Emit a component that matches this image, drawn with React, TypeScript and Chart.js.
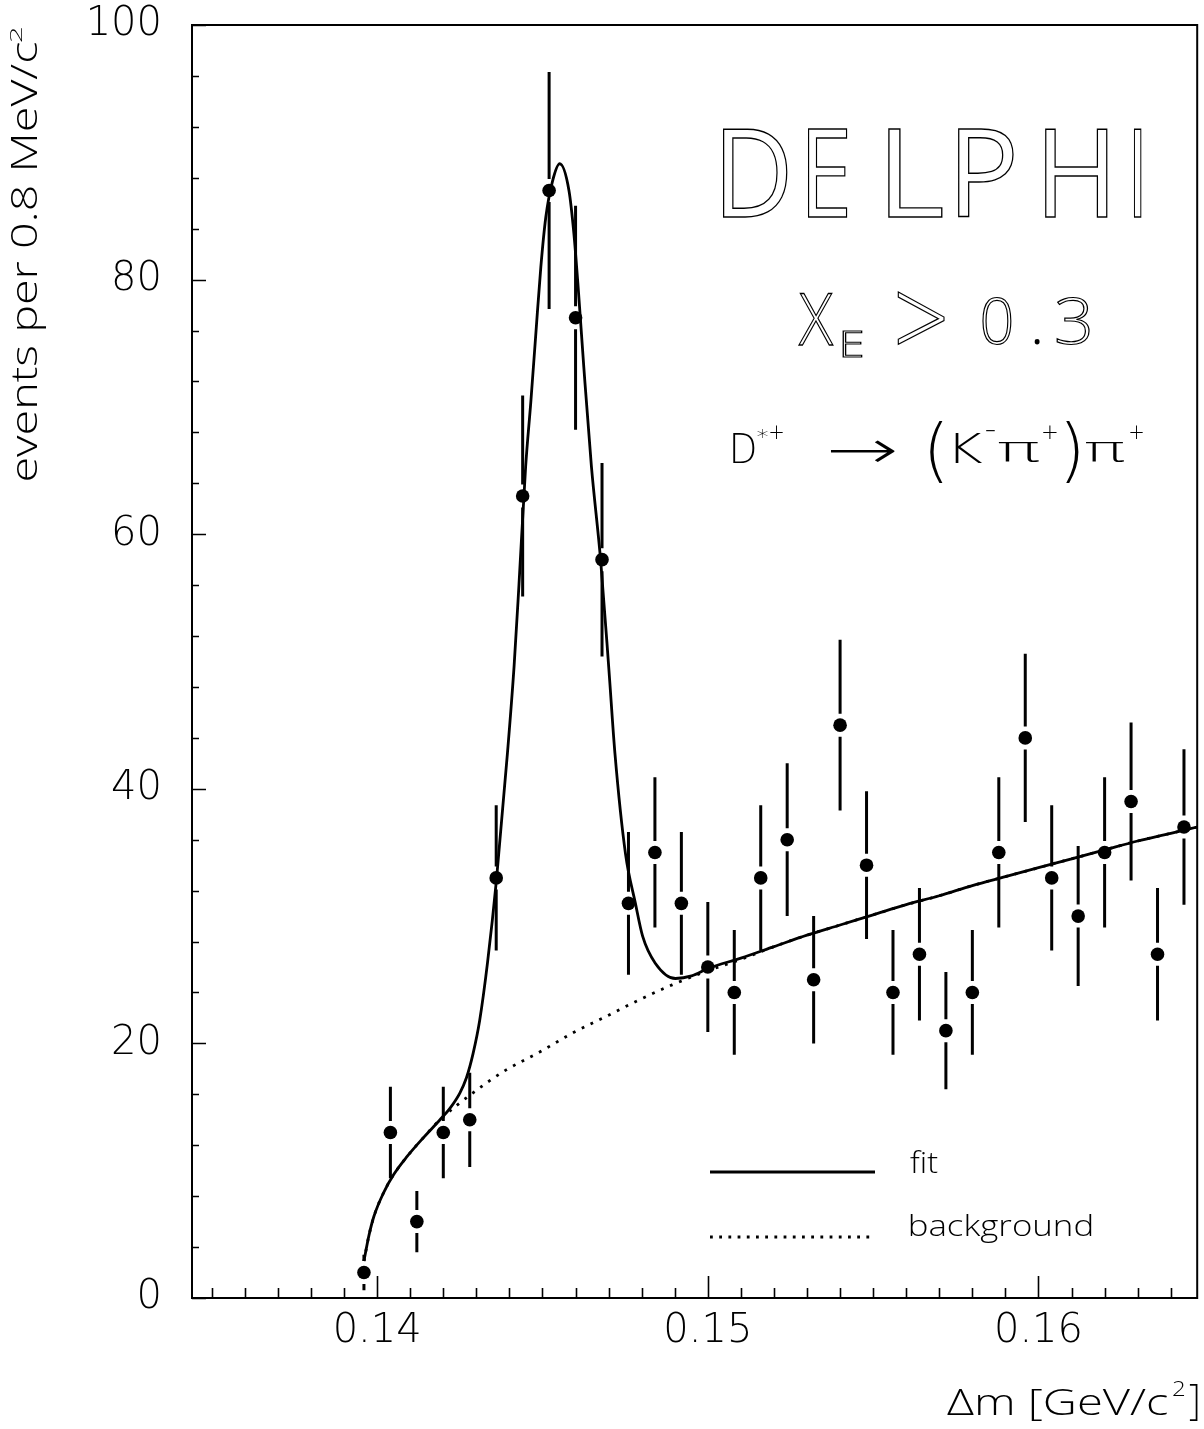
import React, { useEffect, useRef } from "react";
import { Chart, registerables } from "chart.js";

Chart.register(...registerables);

// ---- data ----
const binCenters = [
  0.1396, 0.1404, 0.1412, 0.142, 0.1428, 0.1436, 0.1444, 0.1452, 0.146, 0.1468,
  0.1476, 0.1484, 0.1492, 0.15, 0.1508, 0.1516, 0.1524, 0.1532, 0.154, 0.1548,
  0.1556, 0.1564, 0.1572, 0.158, 0.1588, 0.1596, 0.1604, 0.1612, 0.162, 0.1628,
  0.1636, 0.1644,
];
const counts = [
  2, 13, 6, 13, 14, 33, 63, 87, 77, 58, 31, 35, 31, 26, 24, 33, 36, 25, 45, 34,
  24, 27, 21, 24, 35, 44, 33, 30, 35, 39, 27, 37,
];
const errors = [
  1.4, 3.6, 2.4, 3.6, 3.7, 5.7, 7.9, 9.3, 8.8, 7.6, 5.6, 5.9, 5.6, 5.1, 4.9, 5.7,
  6.0, 5.0, 6.7, 5.8, 4.9, 5.2, 4.6, 4.9, 5.9, 6.6, 5.7, 5.5, 5.9, 6.2, 5.2, 6.1,
];
const fitX = [
  0.1396, 0.13975, 0.1399, 0.1402, 0.1405, 0.1409, 0.1414, 0.1419, 0.1422, 0.1425,
  0.1427, 0.1429, 0.1431, 0.14334, 0.14361, 0.14394, 0.14414, 0.14429, 0.14449, 0.14465,
  0.1448, 0.14495, 0.1451, 0.1453, 0.14552, 0.1458, 0.14595, 0.14607, 0.14625,
  0.14648, 0.14676, 0.14701, 0.14719, 0.14751, 0.14781, 0.14803, 0.14841, 0.14902,
  0.14951, 0.15002, 0.151, 0.152, 0.153, 0.154, 0.155, 0.156, 0.157, 0.158, 0.159,
  0.16, 0.161, 0.162, 0.163, 0.164, 0.1648,
];
const fitY = [
  2.9, 4.9, 6.4, 8.3, 9.7, 11.1, 12.6, 14.0, 14.9, 16.1,
  17.3, 19.2, 21.8, 26.4, 32.9, 42.8, 49.6, 56.1, 65.3, 70.5,
  75.8, 81.0, 84.9, 87.7, 89.1, 87.0, 83.6, 79.7, 73.1,
  65.3, 57.9, 49.3, 42.8, 34.9, 31.0, 28.4, 26.3, 25.1,
  25.3, 25.9, 26.7, 27.6, 28.5, 29.3, 30.1, 30.9, 31.6, 32.4, 33.1,
  33.8, 34.5, 35.2, 35.9, 36.5, 37.0,
];
const bgX = [
  0.1396, 0.13975, 0.1399, 0.1402, 0.1405, 0.1409, 0.1414, 0.1419, 0.14289, 0.14389,
  0.1449, 0.1459, 0.14691, 0.14791, 0.14892, 0.15, 0.151, 0.152, 0.153, 0.154, 0.155,
  0.156, 0.157, 0.158, 0.159, 0.16, 0.161, 0.162, 0.163, 0.164, 0.1648,
];
const bgY = [
  2.9, 4.9, 6.4, 8.3, 9.7, 11.1, 12.6, 14.0, 16.1, 17.9,
  19.3, 20.8, 22.1, 23.4, 24.6, 25.7, 26.6, 27.6, 28.5, 29.3, 30.1,
  30.9, 31.6, 32.4, 33.1, 33.8, 34.5, 35.2, 35.9, 36.5, 37.0,
];
const xTickValues = [0.14, 0.15, 0.16];
const yTickValues = [0, 20, 40, 60, 80, 100];
const X_MIN = 0.1344;
const X_MAX = 0.1648;

const FAMILY = "'Open Sans', 'DejaVu Sans', sans-serif";
const THIN = "'DejaVu Sans', 'Open Sans', sans-serif";

function glyphBox(
  ctx: CanvasRenderingContext2D,
  ch: string,
  font: string,
  x0: number,
  y0: number,
  x1: number,
  y1: number,
  strokeW?: number
) {
  ctx.save();
  ctx.font = font;
  ctx.textAlign = "left";
  ctx.textBaseline = "alphabetic";
  const m = ctx.measureText(ch);
  const l = -m.actualBoundingBoxLeft;
  const r = m.actualBoundingBoxRight;
  const t = -m.actualBoundingBoxAscent;
  const b = m.actualBoundingBoxDescent;
  const sx = (x1 - x0) / Math.max(1e-6, r - l);
  const sy = (y1 - y0) / Math.max(1e-6, b - t);
  ctx.translate(x0 - l * sx, y0 - t * sy);
  ctx.scale(sx, sy);
  if (strokeW) {
    ctx.lineWidth = strokeW / ((sx + sy) / 2);
    ctx.strokeStyle = "#000";
    ctx.strokeText(ch, 0, 0);
  } else {
    ctx.fillStyle = "#000";
    ctx.fillText(ch, 0, 0);
  }
  ctx.restore();
}

function textFit(
  ctx: CanvasRenderingContext2D,
  text: string,
  font: string,
  x0: number,
  x1: number,
  baseline: number
) {
  ctx.save();
  ctx.font = font;
  ctx.textAlign = "left";
  ctx.textBaseline = "alphabetic";
  const m = ctx.measureText(text);
  const l = -m.actualBoundingBoxLeft;
  const r = m.actualBoundingBoxRight;
  const sx = (x1 - x0) / (r - l);
  ctx.translate(x0 - l * sx, baseline);
  ctx.scale(sx, 1);
  ctx.fillStyle = "#000";
  ctx.fillText(text, 0, 0);
  ctx.restore();
}

const decor = {
  id: "decor",
  afterDatasetsDraw(chart: any) {
    const ctx: CanvasRenderingContext2D = chart.ctx;
    const xs = chart.scales.x;
    const ys = chart.scales.y;
    ctx.save();
    ctx.strokeStyle = "#000";
    ctx.lineWidth = 3;
    const gap = 11.5;
    binCenters.forEach((c, i) => {
      const px = xs.getPixelForValue(c);
      const py = ys.getPixelForValue(counts[i]);
      const top = ys.getPixelForValue(counts[i] + errors[i]);
      const bot = ys.getPixelForValue(Math.max(0, counts[i] - errors[i]));
      ctx.beginPath();
      if (py - top > gap) {
        ctx.moveTo(px, top);
        ctx.lineTo(px, py - gap);
      }
      if (bot - py > gap) {
        ctx.moveTo(px, py + gap);
        ctx.lineTo(px, bot);
      }
      ctx.stroke();
    });
    ctx.restore();
  },
  afterDraw(chart: any) {
    const ctx: CanvasRenderingContext2D = chart.ctx;
    const xs = chart.scales.x;
    const ys = chart.scales.y;
    const ca = chart.chartArea;
    ctx.save();
    // frame
    ctx.strokeStyle = "#000";
    ctx.lineWidth = 2;
    ctx.strokeRect(ca.left, ca.top, ca.right - ca.left, ca.bottom - ca.top);
    // y ticks (inside)
    ctx.lineWidth = 1.6;
    ctx.beginPath();
    for (let v = 0; v <= 100; v += 4) {
      const py = Math.round(ys.getPixelForValue(v)) + 0.5;
      const len = v % 20 === 0 ? 14 : 7;
      ctx.moveTo(ca.left, py);
      ctx.lineTo(ca.left + len, py);
    }
    ctx.stroke();
    // x ticks (inside)
    ctx.beginPath();
    for (let k = 135; k <= 164; k++) {
      const px = Math.round(xs.getPixelForValue(k / 1000)) + 0.5;
      const len = k % 10 === 0 ? 22 : 10;
      ctx.moveTo(px, ca.bottom);
      ctx.lineTo(px, ca.bottom - len);
    }
    ctx.stroke();

    // DELPHI (outlined)
    const big = `400 120px ${FAMILY}`;
    glyphBox(ctx, "D", big, 723, 128, 787, 217, 1.3);
    glyphBox(ctx, "E", big, 808, 128, 847, 217, 1.3);
    glyphBox(ctx, "L", big, 888, 128, 942, 217, 1.3);
    glyphBox(ctx, "P", big, 958, 128, 1013, 217, 1.3);
    glyphBox(ctx, "H", big, 1045, 128, 1107, 217, 1.3);
    glyphBox(ctx, "I", big, 1134, 128, 1141, 217, 1.3);

    // X_E > 0.3
    const mid = `300 72px ${FAMILY}`;
    glyphBox(ctx, "X", mid, 798, 293, 833, 345, 1.2);
    glyphBox(ctx, "E", mid, 843, 330, 862, 357, 1.2);
    glyphBox(ctx, ">", mid, 897, 292, 945, 345, 1.2);
    glyphBox(ctx, "0", mid, 983, 296, 1011, 345, 1.2);
    glyphBox(ctx, ".", mid, 1034, 339, 1040, 345);
    glyphBox(ctx, "3", mid, 1057, 296, 1090, 345, 1.2);

    // D*+ -> (K- pi+) pi+
    const f3 = `200 44px ${THIN}`;
    glyphBox(ctx, "D", f3, 733, 433, 755, 463);
    glyphBox(ctx, "*", f3, 757, 428, 768, 437);
    glyphBox(ctx, "+", f3, 770, 426, 783, 439);
    glyphBox(ctx, "\u2192", f3, 830, 440, 895, 462);
    glyphBox(ctx, "(", f3, 929, 420, 943, 483);
    glyphBox(ctx, "K", f3, 955, 433, 983, 463);
    glyphBox(ctx, "\u2212", f3, 986, 430, 995, 432);
    glyphBox(ctx, "\u03c0", f3, 998, 443, 1040, 463);
    glyphBox(ctx, "+", f3, 1043, 426, 1057, 439);
    glyphBox(ctx, ")", f3, 1065, 420, 1079, 483);
    glyphBox(ctx, "\u03c0", f3, 1085, 443, 1125, 463);
    glyphBox(ctx, "+", f3, 1130, 426, 1143, 439);

    // legend
    ctx.lineWidth = 3;
    ctx.beginPath();
    ctx.moveTo(710, 1172);
    ctx.lineTo(875, 1172);
    ctx.stroke();
    ctx.lineWidth = 2.8;
    ctx.setLineDash([2.8, 6.4]);
    ctx.beginPath();
    ctx.moveTo(710, 1237);
    ctx.lineTo(873, 1237);
    ctx.stroke();
    ctx.setLineDash([]);
    const lf = `300 30px ${FAMILY}`;
    textFit(ctx, "fit", lf, 910, 938, 1173);
    textFit(ctx, "background", lf, 910, 1092, 1236);

    // x title
    const tf = `300 36px ${FAMILY}`;
    textFit(ctx, "\u0394m [GeV/c", tf, 947, 1167, 1415);
    glyphBox(ctx, "2", `300 22px ${FAMILY}`, 1173, 1382, 1185, 1396);
    glyphBox(ctx, "]", tf, 1189, 1383, 1198, 1421);

    // y title (rotated)
    ctx.save();
    ctx.translate(37, 480);
    ctx.rotate(-Math.PI / 2);
    textFit(ctx, "events per 0.8 MeV/c", tf, 0, 437, 0);
    ctx.restore();
    ctx.save();
    ctx.translate(22, 42);
    ctx.rotate(-Math.PI / 2);
    glyphBox(ctx, "2", `300 22px ${FAMILY}`, 0, -12, 15, 0);
    ctx.restore();

    ctx.restore();
  },
};

export default function App() {
  const ref = useRef<HTMLCanvasElement | null>(null);
  useEffect(() => {
    document.body.style.margin = "0";
    const canvas = ref.current!;
    const chart = new Chart(canvas, {
      type: "scatter",
      data: {
        datasets: [
          {
            type: "line",
            label: "fit",
            data: fitX.map((x, i) => ({ x, y: fitY[i] })),
            borderColor: "#000",
            borderWidth: 2.8,
            pointRadius: 0,
            cubicInterpolationMode: "monotone",
            fill: false,
          } as any,
          {
            type: "line",
            label: "background",
            data: bgX.map((x, i) => ({ x, y: bgY[i] })),
            borderColor: "#000",
            borderWidth: 2.8,
            borderDash: [2.8, 7],
            pointRadius: 0,
            cubicInterpolationMode: "monotone",
            fill: false,
          } as any,
          {
            type: "scatter",
            label: "data",
            data: binCenters.map((x, i) => ({ x, y: counts[i] })),
            pointRadius: 6.8,
            pointBackgroundColor: "#000",
            pointBorderWidth: 0,
            backgroundColor: "#000",
          } as any,
        ],
      },
      options: {
        responsive: false,
        animation: false,
        devicePixelRatio: 1,
        layout: { padding: { left: 0, top: 25, right: 4, bottom: 0 } },
        plugins: { legend: { display: false }, tooltip: { enabled: false } },
        scales: {
          x: {
            type: "linear",
            min: X_MIN,
            max: X_MAX,
            grid: { display: false, drawTicks: false },
            border: { display: false },
            ticks: {
              color: "#000",
              padding: 10,
              font: { family: THIN, size: 40, weight: "200" as any },
              callback: (v: any) => Number(v).toFixed(2),
            },
            afterBuildTicks: (s: any) => {
              s.ticks = xTickValues.map((v) => ({ value: v }));
            },
            afterFit: (s: any) => {
              s.height = 131;
              s.paddingLeft = 0;
              s.paddingRight = 0;
            },
          },
          y: {
            type: "linear",
            min: 0,
            max: 100,
            grid: { display: false, drawTicks: false },
            border: { display: false },
            ticks: {
              color: "#000",
              padding: 30,
              font: { family: THIN, size: 40, weight: "200" as any },
              callback: (v: any) => String(v),
            },
            afterBuildTicks: (s: any) => {
              s.ticks = yTickValues.map((v) => ({ value: v }));
            },
            afterFit: (s: any) => {
              s.width = 192;
              s.paddingTop = 0;
              s.paddingBottom = 0;
            },
          },
        },
      },
      plugins: [decor],
    });
    return () => chart.destroy();
  }, []);
  return (
    <canvas
      ref={ref}
      width={1204}
      height={1429}
      style={{ display: "block", width: 1204, height: 1429 }}
    />
  );
}
